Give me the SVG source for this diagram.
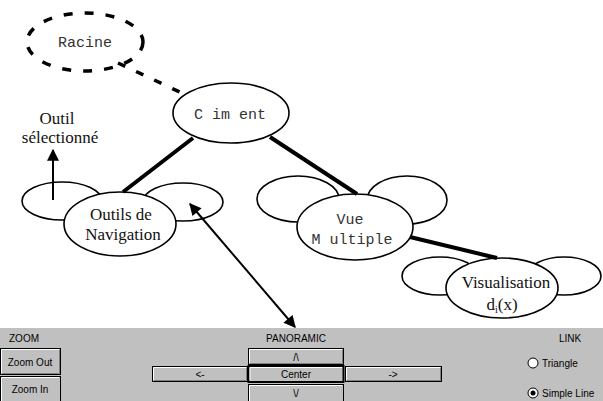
<svg xmlns="http://www.w3.org/2000/svg" width="603" height="401" viewBox="0 0 603 401">
<style>
.nd{fill:#fff;stroke:#000;stroke-width:1.6}
.mono{font-family:"Liberation Mono","DejaVu Sans Mono",monospace;font-size:15px;fill:#333}
.ser{font-family:"Liberation Serif","Times New Roman",serif;font-size:17px;fill:#111}
.edge{stroke:#000;stroke-width:4;fill:none}
.btn{fill:#c0c0c0;stroke:#000;stroke-width:1}
.hl{stroke:#fff;stroke-width:1;fill:none}
.sh{stroke:#808080;stroke-width:1;fill:none}
.ui{font-family:"Liberation Sans",Arial,sans-serif;font-size:10px;fill:#000}
</style>
<defs>
<marker id="ah" viewBox="0 0 10 10" refX="9" refY="5" markerWidth="7.5" markerHeight="6" orient="auto-start-reverse" markerUnits="strokeWidth">
<path d="M0,0 L10,5 L0,10 z" fill="#000"/>
</marker>
</defs>
<rect x="0" y="0" width="603" height="401" fill="#fff"/>

<g id="racine">
<ellipse cx="85" cy="42" rx="58" ry="29" fill="none" stroke="#000" stroke-width="3.5" stroke-dasharray="9 12"/>
<text x="85" y="47" class="mono" font-size="16" text-anchor="middle">Racine</text>
</g>

<g id="ciment">
<ellipse class="nd" cx="231" cy="113" rx="58" ry="30"/>
<text x="230" y="119" class="mono" text-anchor="middle" xml:space="preserve">C im ent</text>
</g>

<g id="outils">
<ellipse class="nd" cx="62" cy="201" rx="40" ry="19"/>
<ellipse class="nd" cx="183" cy="202" rx="40" ry="19"/>
<ellipse class="nd" cx="120" cy="224" rx="56" ry="32"/>
<text x="121" y="220" class="ser" text-anchor="middle">Outils de</text>
<text x="123" y="240" class="ser" text-anchor="middle">Navigation</text>
</g>

<g id="outil-label">
<text x="57" y="124" class="ser" font-size="16" text-anchor="middle">Outil</text>
<text x="60" y="143" class="ser" font-size="16" text-anchor="middle">sélectionné</text>
</g>

<g id="vue">
<ellipse class="nd" cx="298" cy="199" rx="41" ry="23"/>
<ellipse class="nd" cx="407" cy="200" rx="40" ry="24"/>
<ellipse class="nd" cx="355" cy="227" rx="58" ry="33"/>
<text x="350" y="224" class="mono" text-anchor="middle">Vue</text>
<text x="352" y="244" class="mono" text-anchor="middle" xml:space="preserve">M ultiple</text>
</g>

<g id="visualisation">
<ellipse class="nd" cx="440" cy="276" rx="38" ry="19"/>
<ellipse class="nd" cx="564" cy="276" rx="37" ry="19"/>
<ellipse class="nd" cx="502" cy="288" rx="56" ry="30"/>
<text x="506" y="288" class="ser" font-size="18" text-anchor="middle">Visualisation</text>
<text x="502" y="310" class="ser" font-size="18" text-anchor="middle">d<tspan font-size="10" dy="3">i</tspan><tspan dy="-3">(x)</tspan></text>
</g>

<g id="connectors">
<line class="edge" x1="193" y1="138" x2="123" y2="192"/>
<line class="edge" x1="270" y1="137" x2="357" y2="194"/>
<line class="edge" x1="410" y1="237" x2="497" y2="258"/>
<line x1="118" y1="63" x2="186" y2="95" stroke="#000" stroke-width="3.5" stroke-dasharray="8 12"/>
<line x1="53" y1="200" x2="53" y2="150" stroke="#000" stroke-width="2" marker-end="url(#ah)"/>
<line x1="190" y1="204" x2="295" y2="327" stroke="#000" stroke-width="2" marker-start="url(#ah)" marker-end="url(#ah)"/>
</g>

<g id="panel">
<rect x="0" y="328" width="603" height="73" fill="#c0c0c0"/>
<text x="24" y="342" class="ui" text-anchor="middle">ZOOM</text>
<text x="296" y="342" class="ui" text-anchor="middle">PANORAMIC</text>
<text x="570" y="342" class="ui" text-anchor="middle">LINK</text>

<g id="btn-zoomout">
<rect class="btn" x="0.5" y="348.5" width="60" height="26"/>
<path class="hl" d="M1.5,373 V349.5 H59"/>
<path class="sh" d="M2,373.5 H59.5 V350"/>
<text x="30" y="366" class="ui" text-anchor="middle">Zoom Out</text>
</g>
<g id="btn-zoomin">
<rect class="btn" x="0.5" y="376.5" width="60" height="26"/>
<path class="hl" d="M1.5,401 V377.5 H59"/>
<text x="30" y="393" class="ui" text-anchor="middle">Zoom In</text>
</g>
<g id="btn-up">
<rect class="btn" x="248.5" y="348.5" width="95" height="16"/>
<path class="hl" d="M249.5,363 V349.5 H342"/>
<path class="sh" d="M250,363.5 H342.5 V350"/>
<text x="296" y="361" class="ui" text-anchor="middle">/\</text>
</g>
<g id="btn-center">
<rect x="248.5" y="366" width="95" height="16" fill="#c0c0c0" stroke="#000" stroke-width="2"/>
<path class="hl" d="M250,380.5 V367.5 H342"/>
<text x="296" y="378" class="ui" text-anchor="middle">Center</text>
</g>
<g id="btn-down">
<rect class="btn" x="248.5" y="384.5" width="95" height="18"/>
<path class="hl" d="M249.5,401 V385.5 H342"/>
<text x="296" y="397" class="ui" text-anchor="middle">\/</text>
</g>
<g id="btn-left">
<rect class="btn" x="152.5" y="366.5" width="95" height="15"/>
<path class="hl" d="M153.5,380 V367.5 H246"/>
<path class="sh" d="M154,380.5 H246.5 V368"/>
<text x="200" y="378" class="ui" text-anchor="middle">&lt;-</text>
</g>
<g id="btn-right">
<rect class="btn" x="345.5" y="366.5" width="96" height="15"/>
<path class="hl" d="M346.5,380 V367.5 H440"/>
<path class="sh" d="M347,380.5 H440.5 V368"/>
<text x="393" y="378" class="ui" text-anchor="middle">-&gt;</text>
</g>
<g id="radio-triangle">
<circle cx="533" cy="363" r="5" fill="#fff" stroke="#000" stroke-width="1"/>
<text x="542" y="367" class="ui">Triangle</text>
</g>
<g id="radio-simple">
<circle cx="533" cy="393" r="5" fill="#fff" stroke="#000" stroke-width="1"/>
<circle cx="533" cy="393" r="2.5" fill="#000"/>
<text x="542" y="397" class="ui">Simple Line</text>
</g>
</g>
</svg>
